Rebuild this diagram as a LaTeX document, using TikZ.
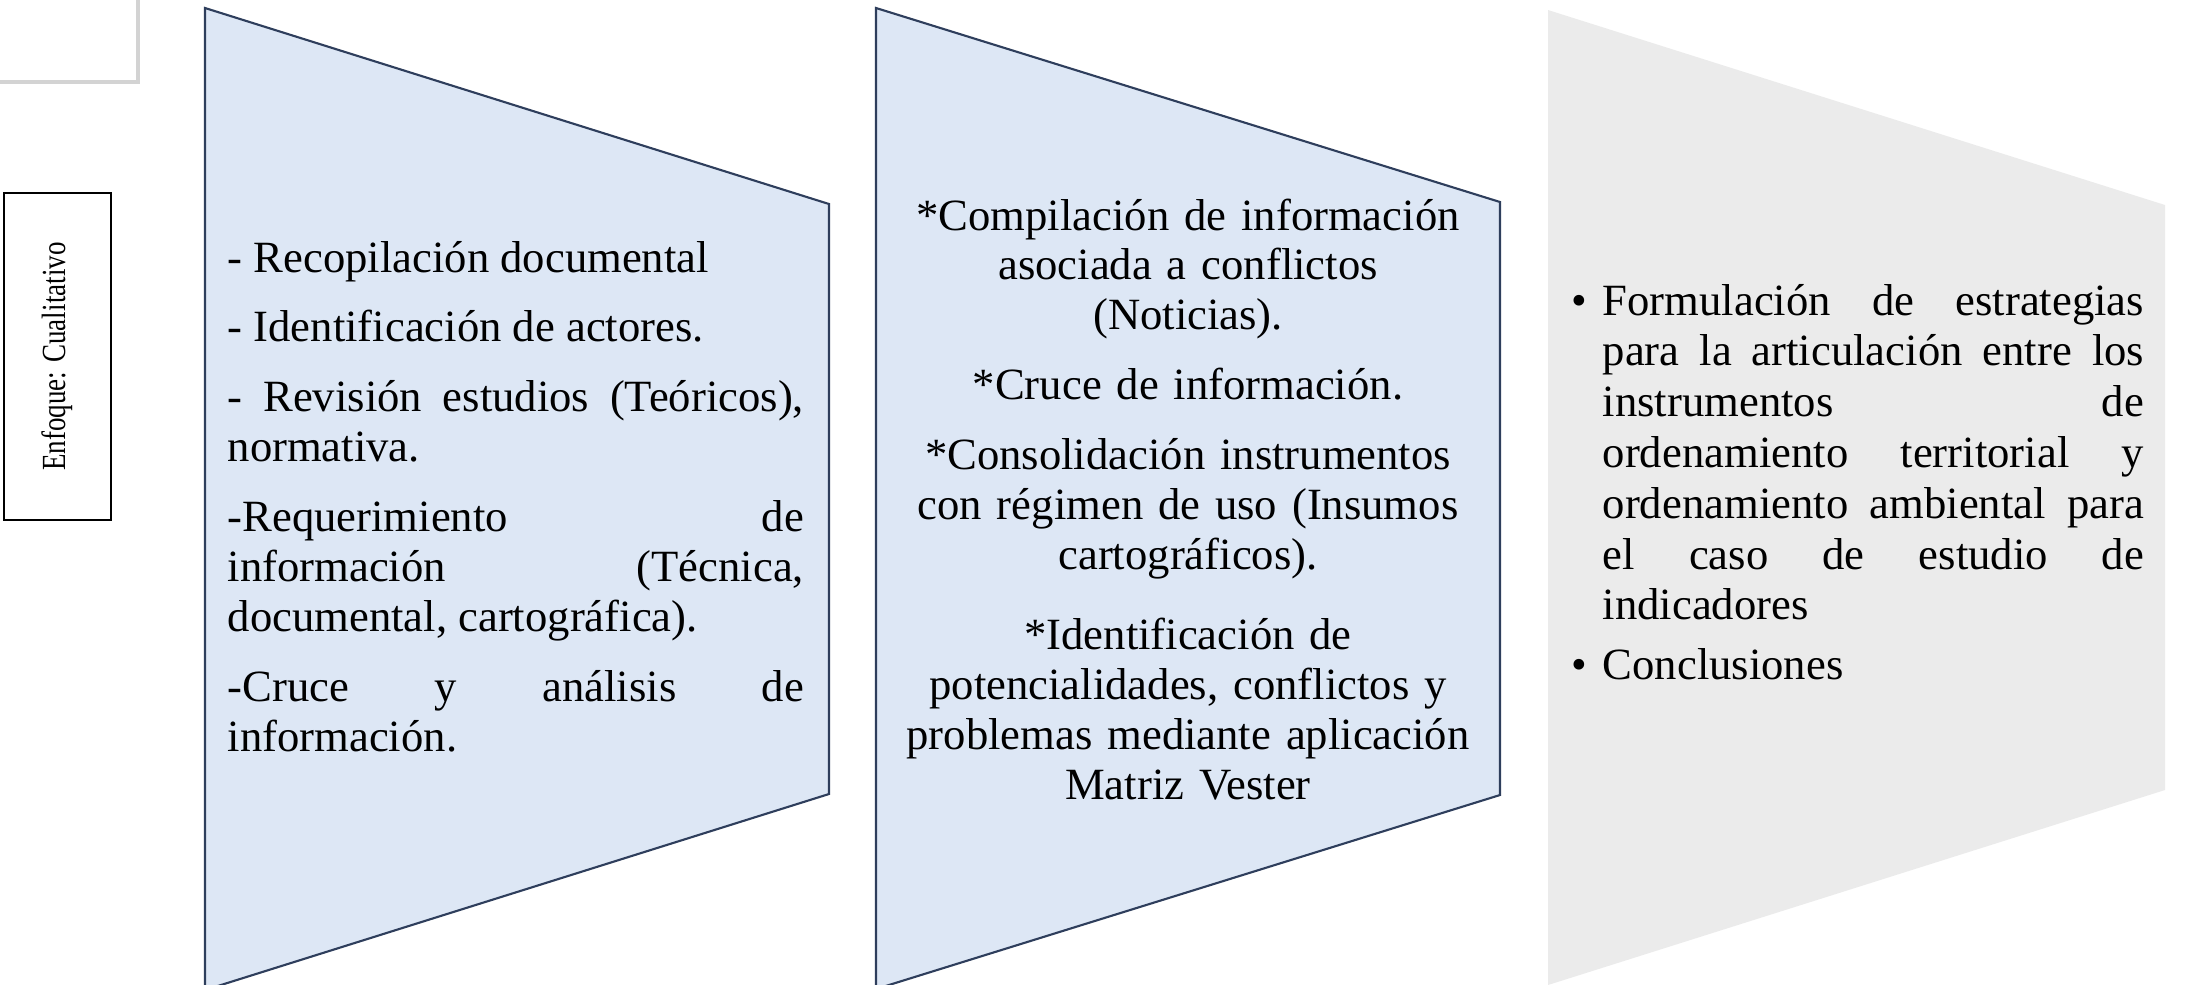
\documentclass[tikz,border=0pt]{standalone}
\usepackage{fontspec}
\setmainfont{Liberation Serif}
\newfontfamily\letraenfoque{Liberation Serif}[FakeStretch=0.8]
\usetikzlibrary{shadows}

\definecolor{etapaazul}{RGB}{221,231,245}
\definecolor{etapagris}{RGB}{235,235,235}
\definecolor{bordeazul}{RGB}{46,62,92}

\begin{document}
\begin{tikzpicture}[x=0.01cm, y=-0.01cm,
  etapa/.style={fill=etapaazul, draw=bordeazul, line width=0.6pt},
  texto/.style={inner sep=0pt, text width=#1, font=\fontsize{12.7}{14.2}\selectfont},
]
\useasboundingbox (0,0) rectangle (2198,984);

% recuadro de la esquina
\fill[white, drop shadow={shadow xshift=1.2pt, shadow yshift=-1.2pt, opacity=0.35}] (-60,-60) rectangle (136,80);

% enfoque
\node (enfoque) [draw, line width=0.6pt, rotate=90, minimum width=3.27cm, minimum height=1.07cm,
  font=\letraenfoque\fontsize{9.6}{12}\selectfont] at (57.5,356.5) {Enfoque: Cualitativo};

% etapas
\filldraw[etapa] (205,8) -- (829,204) -- (829,794) -- (205,990) -- cycle;
\filldraw[etapa] (876,8) -- (1500,202) -- (1500,795) -- (876,989) -- cycle;
\fill[etapagris] (1548,10) -- (2165,205) -- (2165,790) -- (1548,985) -- cycle;

\node (fase1) [texto=5.76cm, align=justify, anchor=base west,
  execute at begin node={\setlength{\parskip}{5.7pt}}] at (227,272) {%
- Recopilación documental\par
- Identificación de actores.\par
- Revisión estudios (Teóricos),\linebreak normativa.\par
-Requerimiento de\linebreak información (Técnica,\linebreak documental, cartográfica).\par
-Cruce y análisis de\linebreak información.};

\node (fase2) [texto=6.2cm, align=center, anchor=base] at (1188,230) {%
*Compilación de información\\ asociada a conflictos\\ (Noticias).\\[5.7pt]
*Cruce de información.\\[5.7pt]
*Consolidación instrumentos\\ con régimen de uso (Insumos\\ cartográficos).\\[8.5pt]
*Identificación de\\ potencialidades, conflictos y\\ problemas mediante aplicación\\ Matriz Vester};

\node (fase3) [texto=5.72cm, align=justify, anchor=base west,
  execute at begin node={\setlength{\parskip}{2.6pt}\setlength{\baselineskip}{14.45pt}}] at (1571,315) {%
\hangindent=0.31cm\hangafter=1\noindent\makebox[0.31cm][l]{\textbullet}Formulación de estrategias\linebreak
para la articulación entre los\linebreak instrumentos de\linebreak ordenamiento territorial y\linebreak
ordenamiento ambiental para\linebreak el caso de estudio de\linebreak indicadores\par
\hangindent=0.31cm\hangafter=1\noindent\makebox[0.31cm][l]{\textbullet}Conclusiones};
\end{tikzpicture}
\end{document}
